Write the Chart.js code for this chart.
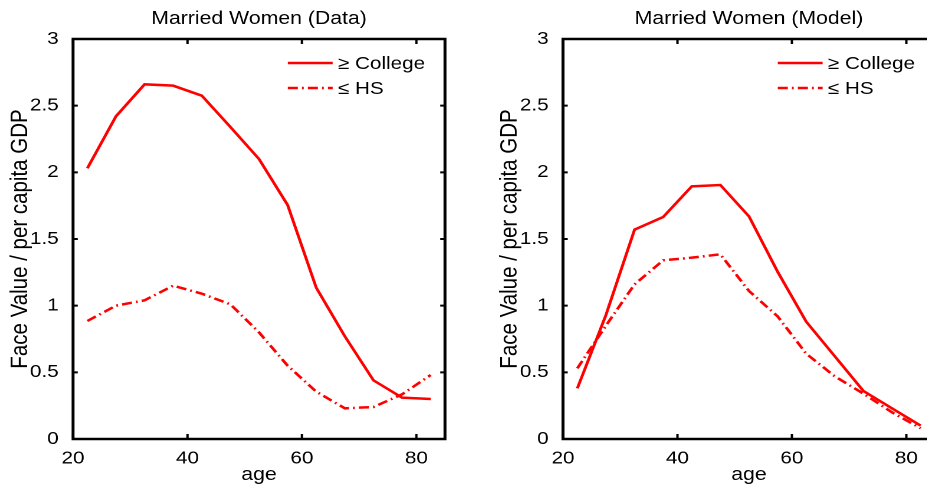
<!DOCTYPE html>
<html lang="en">

<head>
  <meta charset="UTF-8">
  <title>Married Women: Face Value / per capita GDP</title>
  <style>
    html, body { margin: 0; padding: 0; background: #fff; overflow: hidden; }
    /* the reference is stretched sideways, so each panel is drawn narrower and scaled in x */
    .panel { position: absolute; top: 0; height: 487px; transform: scaleX(1.18); transform-origin: 0 0; }
  </style>
</head>

<body>
  <div class="panel" style="left: 0; width: 390px;"><canvas id="chart-data"></canvas></div>
  <div class="panel" style="left: 460px; width: 407px;"><canvas id="chart-model"></canvas></div>

  <script src="https://cdn.jsdelivr.net/npm/chart.js@4.4.8/dist/chart.umd.min.js"></script>
  <script>
    // age groups (mid points)
    const ages = [22.5, 27.5, 32.5, 37.5, 42.5, 47.5, 52.5, 57.5, 62.5, 67.5, 72.5, 77.5, 82.5];

    // left panel: data
    const dataCollege = [2.03, 2.42, 2.66, 2.65, 2.575, 2.34, 2.10, 1.755, 1.135, 0.77, 0.44, 0.31, 0.30];
    const dataHS = [0.885, 1.00, 1.04, 1.15, 1.09, 1.01, 0.80, 0.55, 0.355, 0.23, 0.24, 0.335, 0.48];

    // right panel: model
    const modelCollege = [0.38, 0.93, 1.57, 1.665, 1.895, 1.905, 1.67, 1.255, 0.88, 0.62, 0.36, 0.23, 0.10];
    const modelHS = [0.53, 0.85, 1.16, 1.34, 1.36, 1.385, 1.11, 0.92, 0.64, 0.47, 0.34, 0.20, 0.08];

    const seriesLabels = ['\u2265 College', '\u2264 HS'];
    const xTicks = [20, 40, 60, 80];
    const yTicks = [0, 0.5, 1, 1.5, 2, 2.5, 3];

    const FONT = "'Liberation Sans', Arial, sans-serif";
    const RED = '#ff0000';
    const DASHDOT = [8.5, 3.5, 1.5, 3.5];

    // MATLAB style box with inward ticks, plus the legend inside the axes
    const framePlugin = {
      id: 'frame',
      afterDatasetsDraw(chart) {
        const { ctx, chartArea: a, scales: { x, y } } = chart;
        ctx.save();
        ctx.strokeStyle = '#000';
        ctx.lineWidth = 2.5;
        ctx.strokeRect(a.left, a.top, a.right - a.left, a.bottom - a.top);

        ctx.lineWidth = 2;
        ctx.beginPath();
        x.ticks.forEach(t => {
          const px = x.getPixelForValue(t.value);
          ctx.moveTo(px, a.bottom); ctx.lineTo(px, a.bottom - 5);
          ctx.moveTo(px, a.top); ctx.lineTo(px, a.top + 5);
        });
        y.ticks.forEach(t => {
          const py = y.getPixelForValue(t.value);
          ctx.moveTo(a.left, py); ctx.lineTo(a.left + 4, py);
          ctx.moveTo(a.right, py); ctx.lineTo(a.right - 4, py);
        });
        ctx.stroke();

        // legend
        ctx.font = '17.5px ' + FONT;
        ctx.textBaseline = 'middle';
        ctx.textAlign = 'left';
        chart.data.datasets.forEach((ds, i) => {
          const ly = a.top + 24 + i * 25;
          const lx = a.left + 182;
          ctx.strokeStyle = ds.borderColor;
          ctx.lineWidth = ds.borderWidth;
          ctx.setLineDash(ds.borderDash || []);
          ctx.beginPath();
          ctx.moveTo(lx, ly);
          ctx.lineTo(lx + 38, ly);
          ctx.stroke();
          ctx.setLineDash([]);
          ctx.fillStyle = '#000';
          ctx.fillText(ds.label, lx + 42.5, ly + 1);
        });
        ctx.restore();
      }
    };

    function makeChart(id, title, college, hs, yAxisWidth, yTitlePad, rightPad) {
      const context = document.getElementById(id).getContext('2d');
      return new Chart(context, {
        type: 'line',
        data: {
          datasets: [
            {
              label: seriesLabels[0],
              data: ages.map((a, i) => ({ x: a, y: college[i] })),
              borderColor: RED,
              borderWidth: 2.5,
              pointRadius: 0,
              tension: 0
            },
            {
              label: seriesLabels[1],
              data: ages.map((a, i) => ({ x: a, y: hs[i] })),
              borderColor: RED,
              borderWidth: 2.5,
              borderDash: DASHDOT,
              pointRadius: 0,
              tension: 0
            }
          ]
        },
        options: {
          responsive: true,
          maintainAspectRatio: false,
          animation: false,
          devicePixelRatio: 2,
          layout: { padding: { left: 0, top: 0, right: rightPad, bottom: 0 } },
          plugins: {
            legend: { display: false },
            tooltip: { enabled: false },
            title: {
              display: true,
              text: title,
              fullSize: false,
              color: '#000',
              font: { family: FONT, size: 18, weight: 'normal' },
              padding: { top: 8.2, bottom: 9.2 }
            }
          },
          scales: {
            x: {
              type: 'linear',
              min: 20,
              max: 85,
              afterBuildTicks: s => { s.ticks = xTicks.map(v => ({ value: v })); },
              afterFit: s => { s.height = 48; },
              grid: { display: false },
              border: { display: false },
              ticks: {
                color: '#000',
                padding: 1,
                maxRotation: 0,
                font: { family: FONT, size: 17.5 },
                callback: v => String(v)
              },
              title: {
                display: true,
                text: 'age',
                color: '#000',
                font: { family: FONT, size: 18 },
                padding: { top: 0, bottom: 1 }
              }
            },
            y: {
              min: 0,
              max: 3,
              afterBuildTicks: s => { s.ticks = yTicks.map(v => ({ value: v })); },
              afterFit: s => { s.width = yAxisWidth; },
              grid: { display: false },
              border: { display: false },
              ticks: {
                color: '#000',
                padding: 4.2,
                font: { family: FONT, size: 17.5 },
                callback: v => String(v)
              },
              title: {
                display: true,
                text: 'Face Value / per capita GDP',
                color: '#000',
                font: { family: FONT, size: 20.5 },
                padding: { top: yTitlePad, bottom: 0 }
              }
            }
          }
        },
        plugins: [framePlugin]
      });
    }

    makeChart('chart-data', 'Married Women (Data)', dataCollege, dataHS, 61.9, 5.2, 12.9);
    makeChart('chart-model', 'Married Women (Model)', modelCollege, modelHS, 87.3, 29.8, 4.5);
  </script>
</body>

</html>
